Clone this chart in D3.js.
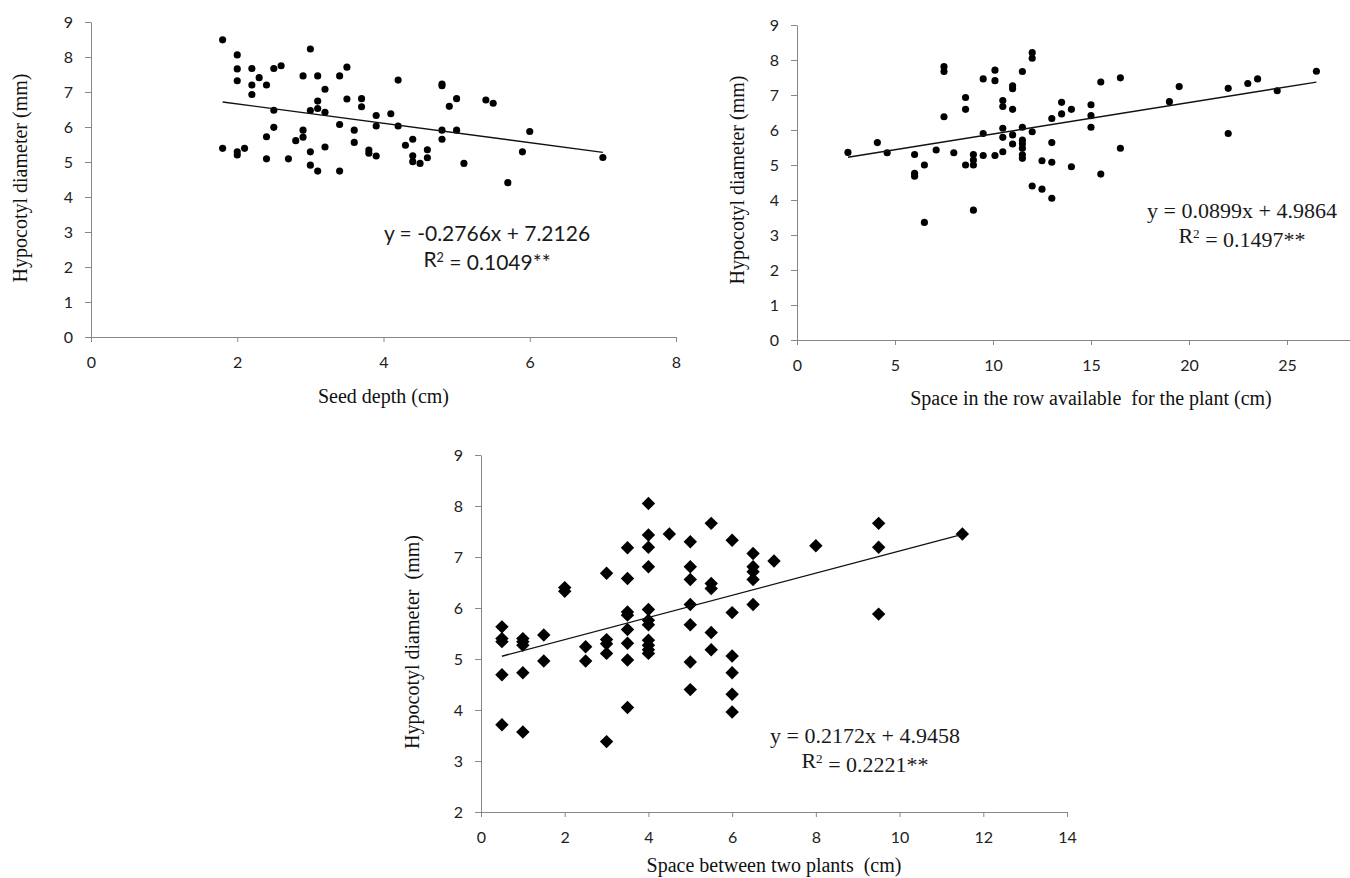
<!DOCTYPE html>
<html>
<head>
<meta charset="utf-8">
<script src="https://cdn.jsdelivr.net/npm/d3@7"></script>
<style>
  body { margin: 0; background: #fff; }
  svg { display: block; }
  .tick text { font-family: Lato, "Open Sans", sans-serif; font-size: 16px; fill: #222; }
  .domain, .tick line { stroke: #878787; }
  .title { font-family: "Liberation Serif", "Times New Roman", serif; font-size: 20px; fill: #111; white-space: pre; }
</style>
</head>
<body>
<div id="chart"></div>
<script>
// seed depth (cm) vs hypocotyl diameter (mm)
const depthX = [1.8, 2.0, 2.0, 2.0, 2.2, 2.2, 2.2, 2.3, 2.4, 2.5, 2.6, 2.5, 2.5, 2.4, 2.4, 1.8, 2.0, 2.0, 2.1, 2.7,
  2.8, 2.9, 2.9, 2.9, 3.0, 3.0, 3.0, 3.0, 3.1, 3.1, 3.1, 3.1, 3.2, 3.2, 3.2, 3.4, 3.4, 3.4, 3.5, 3.5,
  3.6, 3.6, 3.7, 3.7, 3.8, 3.8, 3.9, 3.9, 3.9, 4.1, 4.2, 4.2, 4.3, 4.4, 4.4, 4.4, 4.5, 4.6, 4.6, 4.8,
  4.8, 4.8, 4.8, 4.9, 5.0, 5.0, 5.1, 5.4, 5.5, 5.7, 5.9, 6.0, 7.0];
const depthY = [8.49, 8.06, 7.66, 7.32, 7.67, 7.2, 6.93, 7.41, 7.2, 7.67, 7.75, 6.48, 5.99, 5.72, 5.09, 5.39, 5.29, 5.2, 5.39, 5.09,
  5.61, 5.71, 5.91, 7.46, 8.23, 6.47, 5.29, 4.91, 7.46, 6.74, 6.53, 4.74, 7.08, 6.42, 5.43, 7.46, 6.07, 4.74, 7.71, 6.8,
  5.91, 5.56, 6.81, 6.58, 5.34, 5.25, 5.17, 6.33, 6.03, 6.38, 7.34, 6.03, 5.48, 5.65, 5.18, 5.01, 4.96, 5.35, 5.12, 7.23,
  7.18, 5.91, 5.65, 6.59, 6.81, 5.91, 4.96, 6.77, 6.68, 4.41, 5.29, 5.87, 5.13];

// space in the row available for the plant (cm)
const rowX = [2.6, 4.1, 4.6, 6.0, 6.0, 6.0, 6.5, 7.1, 7.5, 7.5, 7.5, 8.0, 8.6, 8.6, 8.6, 9.0, 9.0, 9.0, 9.5, 9.5,
  9.5, 10.1, 10.1, 10.1, 10.5, 10.5, 10.5, 10.5, 10.5, 11.0, 11.0, 11.0, 11.0, 11.0, 11.5, 11.5, 11.5, 11.5, 11.5, 11.5,
  11.5, 12.0, 12.0, 12.0, 12.0, 12.5, 12.5, 13.0, 13.0, 13.0, 13.0, 13.5, 13.5, 14.0, 14.0, 15.0, 15.0, 15.0, 15.5, 15.5,
  16.5, 16.5, 19.0, 19.5, 22.0, 22.0, 23.0, 23.5, 24.5, 26.5, 6.5, 9.0];
const rowY = [5.36, 5.64, 5.35, 5.3, 4.76, 4.68, 5.0, 5.43, 7.81, 7.67, 6.38, 5.35, 6.93, 6.59, 5.0, 5.3, 5.14, 5.0, 7.46, 5.9,
  5.27, 7.71, 7.41, 5.27, 6.84, 6.67, 6.05, 5.79, 5.38, 7.26, 7.18, 6.59, 5.86, 5.6, 7.67, 6.08, 5.71, 5.6, 5.48, 5.29,
  5.19, 8.21, 8.05, 5.95, 4.4, 5.12, 4.31, 6.33, 5.64, 5.08, 4.05, 6.79, 6.46, 6.59, 4.95, 6.72, 6.41, 6.08, 7.37, 4.74,
  7.49, 5.48, 6.81, 7.24, 7.19, 5.9, 7.33, 7.46, 7.12, 7.68, 3.36, 3.71];

// space between two plants (cm)
const gapX = [0.5, 0.5, 0.5, 0.5, 0.5, 1.0, 1.0, 1.0, 1.0, 1.0, 1.5, 1.5, 2.0, 2.0, 2.5, 2.5,
  3.0, 3.0, 3.0, 3.0, 3.0, 3.5, 3.5, 3.5, 3.5, 3.5, 3.5, 3.5, 3.5,
  4.0, 4.0, 4.0, 4.0, 4.0, 4.0, 4.0, 4.0, 4.0, 4.0, 4.0, 4.5,
  5.0, 5.0, 5.0, 5.0, 5.0, 5.0, 5.0, 5.5, 5.5, 5.5, 5.5, 5.5,
  6.0, 6.0, 6.0, 6.0, 6.0, 6.0, 6.5, 6.5, 6.5, 6.5, 6.5, 7.0, 8.0, 9.5, 9.5, 9.5, 11.5];
const gapY = [5.63, 5.4, 5.34, 4.69, 3.71, 5.4, 5.34, 5.27, 4.73, 3.57, 5.47, 4.96, 6.4, 6.33, 5.24, 4.96,
  6.68, 5.38, 5.3, 5.11, 3.38, 7.18, 6.58, 5.92, 5.86, 5.58, 5.31, 4.98, 4.05,
  8.05, 7.43, 7.19, 6.81, 5.97, 5.76, 5.67, 5.37, 5.27, 5.18, 5.11, 7.45,
  7.3, 6.81, 6.56, 6.07, 5.67, 4.94, 4.4, 7.66, 6.48, 6.38, 5.52, 5.18,
  7.33, 5.91, 5.06, 4.73, 4.31, 3.96, 7.07, 6.81, 6.71, 6.56, 6.07, 6.92, 7.22, 7.66, 7.19, 5.88, 7.45];

// axis ticks
const depthTicks = [0, 2, 4, 6, 8];
const rowTicks = [0, 5, 10, 15, 20, 25];
const gapTicks = [0, 2, 4, 6, 8, 10, 12, 14];
const diamTicks = [0, 1, 2, 3, 4, 5, 6, 7, 8, 9];
const diamTicks3 = [2, 3, 4, 5, 6, 7, 8, 9];

// regression fits [slope, intercept, xStart, xEnd]
const depthFit = [-0.2766, 7.2126, 1.8, 7.0];
const rowFit = [0.0899, 4.9864, 2.6, 26.5];
const gapFit = [0.2172, 4.9458, 0.5, 11.5];

const svg = d3.select("#chart").append("svg")
    .attr("width", 1350)
    .attr("height", 878);

function drawPanel(p) {
    const x = d3.scaleLinear().domain(p.xDomain).range(p.xRange);
    const y = d3.scaleLinear().domain(p.yDomain).range(p.yRange);
    const g = svg.append("g");

    g.append("g")
        .attr("transform", `translate(0,${p.yRange[0]})`)
        .call(d3.axisBottom(x).tickValues(p.xTicks).tickFormat(d3.format("d"))
            .tickSize(5).tickSizeOuter(0).tickPadding(15))
        .call((a) => a.selectAll("text").attr("dy", "0.71em"));

    g.append("g")
        .attr("transform", `translate(${p.xRange[0]},0)`)
        .call(d3.axisLeft(y).tickValues(p.yTicks).tickFormat(d3.format("d"))
            .tickSize(6).tickSizeOuter(0).tickPadding(12));

    g.selectAll(".domain").attr("stroke", "#878787");

    const pts = p.xs.map((v, i) => [v, p.ys[i]]);
    const sym = d3.symbol().type(p.symbol).size(p.symbolSize);
    g.append("g").selectAll("path")
        .data(pts)
        .enter()
        .append("path")
        .attr("d", sym)
        .attr("fill", "#000")
        .attr("transform", (d) => `translate(${x(d[0])},${y(d[1])})` + (p.rotate ? " rotate(45)" : ""));

    const f = p.fit;
    g.append("line")
        .attr("x1", x(f[2])).attr("y1", y(f[0] * f[2] + f[1]))
        .attr("x2", x(f[3])).attr("y2", y(f[0] * f[3] + f[1]))
        .attr("stroke", "#111")
        .attr("stroke-width", 1.4);

    g.append("text")
        .attr("class", "title")
        .attr("x", (p.xRange[0] + p.xRange[1]) / 2)
        .attr("y", p.xTitleY)
        .attr("text-anchor", "middle")
        .text(p.xTitle);

    g.append("text")
        .attr("class", "title")
        .attr("transform", `translate(${p.yTitleX},${p.yTitleY}) rotate(-90)`)
        .attr("text-anchor", "middle")
        .attr("dy", "0.35em")
        .text(p.yTitle);

    // equation and R² as two separate text lines
    const style = (t) => t.attr("text-anchor", "middle")
        .style("font-family", p.eqFont)
        .style("font-size", p.eqSize + "px")
        .attr("fill", "#1a1a1a");
    g.append("text").call(style)
        .attr("x", p.eqX).attr("y", p.eqY)
        .text(p.eq1);
    const r2 = g.append("text").call(style)
        .attr("x", p.eqX).attr("y", p.eqY + p.eqGap);
    r2.append("tspan").text("R");
    r2.append("tspan").attr("dy", "-0.4em").style("font-size", "0.6em").text("2");
    r2.append("tspan").attr("dy", "0.4em").text(" = " + p.eq2);
}

drawPanel({
    xs: depthX, ys: depthY, xTicks: depthTicks, yTicks: diamTicks,
    xDomain: [0, 8], xRange: [91, 676], yDomain: [0, 9], yRange: [337, 22],
    symbol: d3.symbolCircle, symbolSize: 40, rotate: false, fit: depthFit,
    xTitle: "Seed depth (cm)", xTitleY: 403,
    yTitle: "Hypocotyl diameter (mm)", yTitleX: 20, yTitleY: 178,
    eqFont: "Lato, sans-serif", eqSize: 21, eqX: 487, eqY: 241, eqGap: 26,
    eq1: "y = -0.2766x + 7.2126", eq2: "0.1049**"
});

drawPanel({
    xs: rowX, ys: rowY, xTicks: rowTicks, yTicks: diamTicks,
    xDomain: [0, 30], xRange: [797, 1385], yDomain: [0, 9], yRange: [340, 25],
    symbol: d3.symbolCircle, symbolSize: 40, rotate: false, fit: rowFit,
    xTitle: "Space in the row available  for the plant (cm)", xTitleY: 405,
    yTitle: "Hypocotyl diameter (mm)", yTitleX: 737, yTitleY: 180,
    eqFont: "'Liberation Serif', serif", eqSize: 22, eqX: 1242, eqY: 218, eqGap: 25,
    eq1: "y = 0.0899x + 4.9864", eq2: "0.1497**"
});

drawPanel({
    xs: gapX, ys: gapY, xTicks: gapTicks, yTicks: diamTicks3,
    xDomain: [0, 14], xRange: [481, 1067], yDomain: [2, 9], yRange: [812, 455],
    symbol: d3.symbolSquare, symbolSize: 90, rotate: true, fit: gapFit,
    xTitle: "Space between two plants  (cm)", xTitleY: 872,
    yTitle: "Hypocotyl diameter  (mm)", yTitleX: 412, yTitleY: 642,
    eqFont: "'Liberation Serif', serif", eqSize: 22, eqX: 865, eqY: 743, eqGap: 25,
    eq1: "y = 0.2172x + 4.9458", eq2: "0.2221**"
});
</script>
</body>
</html>
